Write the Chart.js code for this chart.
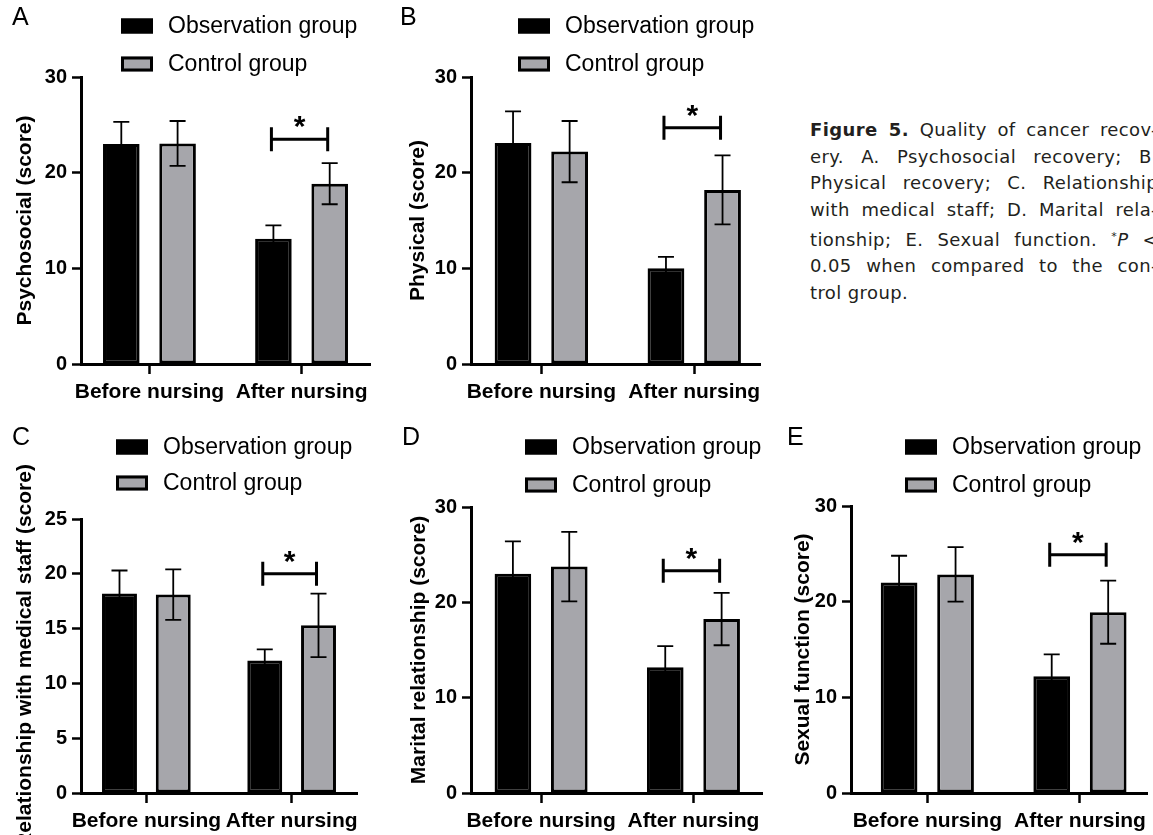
<!DOCTYPE html>
<html>
<head>
<meta charset="utf-8">
<script src="https://cdn.jsdelivr.net/npm/chart.js@4.4.0/dist/chart.umd.min.js"></script>
<style>
  html, body { margin: 0; padding: 0; background: #fff; }
  body { width: 1153px; height: 835px; overflow: hidden; position: relative; }
  .panel { position: absolute; }
  .caption {
    position: absolute; left: 810px; top: 117px; width: 348px;
    font: 18px "DejaVu Sans", sans-serif; color: #231f20; line-height: 26.67px; letter-spacing: 0.4px;
  }
  .caption div { text-align: justify; text-align-last: justify; white-space: nowrap; }
  .caption div.last { text-align-last: left; }
  .caption sup { font-size: 11px; vertical-align: 6px; }
</style>
</head>
<body>

<div class="caption">
  <div><b>Figure 5.</b> Quality of cancer recov-</div>
  <div>ery. A. Psychosocial recovery; B.</div>
  <div>Physical recovery; C. Relationship</div>
  <div>with medical staff; D. Marital rela-</div>
  <div>tionship; E. Sexual function. <sup>*</sup><i>P</i> &lt;</div>
  <div>0.05 when compared to the con-</div>
  <div class="last">trol group.</div>
</div>

<script>
const categories = ["Before nursing", "After nursing"];
const seriesNames = ["Observation group", "Control group"];

// A. Psychosocial
const psychoObs = [23.0, 13.1];
const psychoObsSd = [2.3, 1.4];
const psychoCtrl = [23.05, 18.85];
const psychoCtrlSd = [2.35, 2.15];
const psychoSig = 23.5;

// B. Physical
const physObs = [23.1, 10.0];
const physObsSd = [3.3, 1.2];
const physCtrl = [22.2, 18.2];
const physCtrlSd = [3.2, 3.6];
const physSig = 24.7;

// C. Relationship with medical staff
const staffObs = [18.2, 12.1];
const staffObsSd = [2.1, 1.0];
const staffCtrl = [18.1, 15.3];
const staffCtrlSd = [2.3, 2.9];
const staffSig = 20.0;

// D. Marital relationship
const maritalObs = [23.0, 13.2];
const maritalObsSd = [3.4, 2.2];
const maritalCtrl = [23.75, 18.25];
const maritalCtrlSd = [3.65, 2.75];
const maritalSig = 23.3;

// E. Sexual function
const sexObs = [22.0, 12.2];
const sexObsSd = [2.8, 2.3];
const sexCtrl = [22.85, 18.9];
const sexCtrlSd = [2.85, 3.3];
const sexSig = 24.9;

const yTicks30 = [0, 10, 20, 30];
const yTicks25 = [0, 5, 10, 15, 20, 25];

const obsColor = "#000000";
const ctrlColor = "#a6a6ab";

// panel boxes: area = [left, top, right, bottom] of the plot inside the canvas
const panels = [
  { letter: "A", left: 0, top: 0, w: 385, h: 410, area: [81, 77, 370, 364], xMin: -0.45, xMax: 1.45,
    yMax: 30, yTicks: yTicks30, yTitle: "Psychosocial (score)", titleX: 25, letterX: 12, legendX: 121, legendY: [26, 64],
    obs: psychoObs, obsSd: psychoObsSd, ctrl: psychoCtrl, ctrlSd: psychoCtrlSd, sig: psychoSig },
  { letter: "B", left: 390, top: 0, w: 380, h: 410, area: [81, 77, 370, 364], xMin: -0.46, xMax: 1.43,
    yMax: 30, yTicks: yTicks30, yTitle: "Physical (score)", titleX: 28, letterX: 10, legendX: 128, legendY: [26, 64],
    obs: physObs, obsSd: physObsSd, ctrl: physCtrl, ctrlSd: physCtrlSd, sig: physSig },
  { letter: "C", left: 0, top: 420, w: 385, h: 415, area: [81, 99, 357, 373], xMin: -0.45, xMax: 1.45,
    yMax: 25, yTicks: yTicks25, yTitle: "Relationship with medical staff (score)", titleX: 25, letterX: 12, legendX: 116, legendY: [27, 63],
    obs: staffObs, obsSd: staffObsSd, ctrl: staffCtrl, ctrlSd: staffCtrlSd, sig: staffSig },
  { letter: "D", left: 390, top: 420, w: 380, h: 415, area: [81, 87, 372, 373], xMin: -0.46, xMax: 1.45,
    yMax: 30, yTicks: yTicks30, yTitle: "Marital relationship (score)", titleX: 29, letterX: 12, legendX: 135, legendY: [27, 65],
    obs: maritalObs, obsSd: maritalObsSd, ctrl: maritalCtrl, ctrlSd: maritalCtrlSd, sig: maritalSig },
  { letter: "E", left: 770, top: 420, w: 383, h: 415, area: [81, 86, 378, 373], xMin: -0.5, xMax: 1.44,
    yMax: 30, yTicks: yTicks30, yTitle: "Sexual function (score)", titleX: 33, letterX: 17, legendX: 135, legendY: [27, 65],
    obs: sexObs, obsSd: sexObsSd, ctrl: sexCtrl, ctrlSd: sexCtrlSd, sig: sexSig }
];

const FONT = '"Liberation Sans", Arial, sans-serif';
Chart.defaults.font.family = FONT;
Chart.defaults.color = "#000";

// error bars, significance bracket, legend, panel letter, y title
const panelDecor = {
  id: "panelDecor",
  afterDatasetsDraw(chart, args, opts) {
    const { ctx, scales: { y } } = chart;
    ctx.save();
    ctx.strokeStyle = "#000";
    ctx.lineWidth = 1.8;
    opts.sd.forEach((sds, i) => {
      const meta = chart.getDatasetMeta(i);
      const vals = chart.data.datasets[i].data;
      meta.data.forEach((bar, j) => {
        const top = y.getPixelForValue(vals[j].y + sds[j]);
        const bot = y.getPixelForValue(vals[j].y - sds[j]);
        ctx.beginPath();
        ctx.moveTo(bar.x, top); ctx.lineTo(bar.x, bot);
        ctx.moveTo(bar.x - 8, top); ctx.lineTo(bar.x + 8, top);
        ctx.moveTo(bar.x - 8, bot); ctx.lineTo(bar.x + 8, bot);
        ctx.stroke();
      });
    });

    // * bracket between the two "after" bars
    const x1 = chart.getDatasetMeta(0).data[1].x - 2;
    const x2 = chart.getDatasetMeta(1).data[1].x - 2;
    const by = y.getPixelForValue(opts.sig);
    ctx.lineWidth = 3;
    ctx.beginPath();
    ctx.moveTo(x1, by); ctx.lineTo(x2, by);
    ctx.moveTo(x1, by - 12); ctx.lineTo(x1, by + 12);
    ctx.moveTo(x2, by - 12); ctx.lineTo(x2, by + 12);
    ctx.stroke();
    ctx.fillStyle = "#000";
    ctx.font = "bold 30px " + FONT;
    ctx.textAlign = "center";
    ctx.textBaseline = "alphabetic";
    ctx.fillText("*", (x1 + x2) / 2, by - 3);
    ctx.restore();
  },
  afterDraw(chart, args, opts) {
    const { ctx, chartArea } = chart;
    ctx.save();
    ctx.fillStyle = "#000";

    // panel letter
    ctx.font = "25px " + FONT;
    ctx.textAlign = "left";
    ctx.textBaseline = "alphabetic";
    ctx.fillText(opts.letter, opts.letterX, 25);

    // legend
    ctx.font = "23px " + FONT;
    ctx.textBaseline = "middle";
    chart.data.datasets.forEach((ds, i) => {
      const cy = opts.legendY[i];
      ctx.fillStyle = ds.backgroundColor;
      ctx.fillRect(opts.legendX, cy - 7.5, 32, 15);
      ctx.strokeStyle = "#000";
      ctx.lineWidth = 3;
      ctx.strokeRect(opts.legendX + 1.5, cy - 6, 29, 12);
      ctx.fillStyle = "#000";
      ctx.fillText(ds.label, opts.legendX + 47, cy + 1);
    });

    // y axis title
    ctx.font = "bold 21px " + FONT;
    ctx.textAlign = "center";
    ctx.translate(opts.titleX, (chartArea.top + chartArea.bottom) / 2);
    ctx.rotate(-Math.PI / 2);
    ctx.fillText(opts.title, 0, 0);
    ctx.restore();
  }
};

function makeChart(p) {
  const div = document.createElement("div");
  div.className = "panel";
  div.style.left = p.left + "px";
  div.style.top = p.top + "px";
  const cv = document.createElement("canvas");
  cv.width = p.w;
  cv.height = p.h;
  div.appendChild(cv);
  document.body.appendChild(div);

  const [L, T, R, B] = p.area;
  const barStyle = { borderColor: "#000", borderWidth: 3, borderSkipped: false, categoryPercentage: 0.74, barPercentage: 0.65 };

  new Chart(cv, {
    type: "bar",
    data: {
      datasets: [
        Object.assign({ label: seriesNames[0], data: p.obs.map((v, i) => ({ x: i, y: v })), backgroundColor: obsColor }, barStyle),
        Object.assign({ label: seriesNames[1], data: p.ctrl.map((v, i) => ({ x: i, y: v })), backgroundColor: ctrlColor }, barStyle)
      ]
    },
    options: {
      responsive: false,
      animation: false,
      events: [],
      layout: { padding: { left: 0, top: T, right: p.w - R, bottom: 0 } },
      scales: {
        x: {
          type: "linear", min: p.xMin, max: p.xMax, offset: false,
          afterFit: s => { s.height = p.h - B; },
          ticks: {
            stepSize: 1, includeBounds: false, autoSkip: false, maxRotation: 0, padding: 6,
            font: { size: 21, weight: "bold" }, color: "#000",
            callback: v => categories[Math.round(v)]
          },
          grid: { offset: false, drawOnChartArea: false, drawTicks: true, tickLength: 10, tickWidth: 2.5, tickColor: "#000" },
          border: { display: true, color: "#000", width: 3 }
        },
        y: {
          min: 0, max: p.yMax,
          afterFit: s => { s.width = L; },
          afterBuildTicks: s => { s.ticks = p.yTicks.map(v => ({ value: v })); },
          ticks: { padding: 5, font: { size: 20, weight: "bold" }, color: "#000" },
          grid: { drawOnChartArea: false, drawTicks: true, tickLength: 9, tickWidth: 2.5, tickColor: "#000" },
          border: { display: true, color: "#000", width: 3 }
        }
      },
      plugins: {
        legend: { display: false },
        tooltip: { enabled: false },
        panelDecor: {
          sd: [p.obsSd, p.ctrlSd], sig: p.sig, letter: p.letter, letterX: p.letterX,
          legendX: p.legendX, legendY: p.legendY, title: p.yTitle, titleX: p.titleX
        }
      }
    },
    plugins: [panelDecor]
  });
}

panels.forEach(makeChart);
</script>
</body>
</html>
